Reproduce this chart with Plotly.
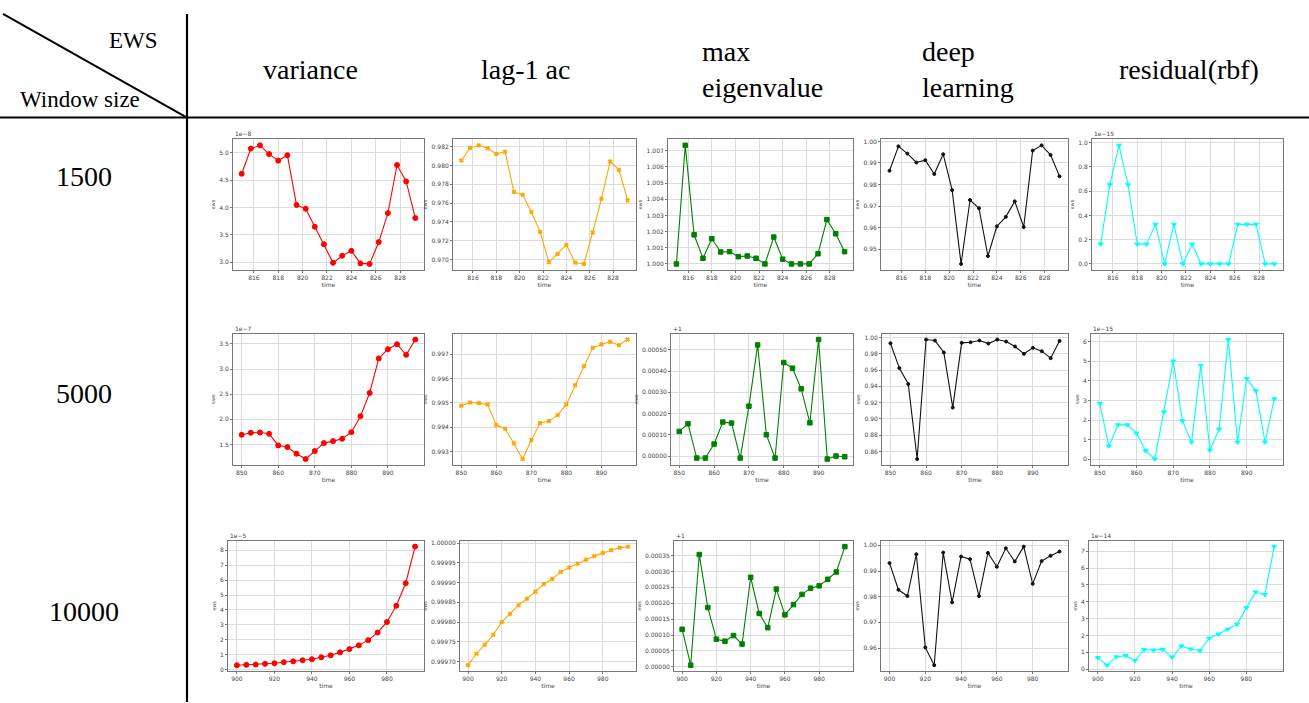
import plotly.graph_objects as go

W, H = 1309, 703

# ---------------- data ----------------
time_1500 = [815.0, 815.75, 816.5, 817.25, 818.0, 818.75, 819.5, 820.25, 821.0, 821.75,
             822.5, 823.25, 824.0, 824.75, 825.5, 826.25, 827.0, 827.75, 828.5, 829.25]
time_5000 = [850.0, 852.5, 855.0, 857.5, 860.0, 862.5, 865.0, 867.5, 870.0, 872.5,
             875.0, 877.5, 880.0, 882.5, 885.0, 887.5, 890.0, 892.5, 895.0, 897.5]
time_10000 = [900, 905, 910, 915, 920, 925, 930, 935, 940, 945,
              950, 955, 960, 965, 970, 975, 980, 985, 990, 995]

# values shown in the units of the axis offset label
variance_1500 = [4.62, 5.08, 5.14, 4.98, 4.86, 4.96, 4.05, 3.98, 3.65, 3.33,
                 2.99, 3.12, 3.21, 2.98, 2.97, 3.37, 3.90, 4.78, 4.48, 3.81]          # x1e-8
lag1_1500 = [0.98053, 0.98186, 0.98214, 0.98182, 0.98123, 0.98147, 0.97719, 0.97688, 0.97505, 0.97295,
             0.96972, 0.97060, 0.97156, 0.96968, 0.96954, 0.97288, 0.97646, 0.98042, 0.97954, 0.97629]
maxeig_1500 = [1.0000, 1.00733, 1.00180, 1.00035, 1.00156, 1.00074, 1.00076, 1.00045, 1.00049, 1.00035,
               1.0000, 1.00166, 1.00029, 1.0000, 1.0000, 1.0000, 1.00063, 1.00274, 1.00186, 1.00076]
deep_1500 = [0.98639, 0.99771, 0.99434, 0.99021, 0.99128, 0.98486, 0.99404, 0.97737, 0.94312, 0.97278,
             0.96896, 0.94679, 0.96055, 0.96498, 0.97217, 0.96024, 0.99572, 0.99817, 0.99373, 0.98379]
resid_1500 = [0.163, 0.652, 0.978, 0.652, 0.163, 0.163, 0.326, 0.0, 0.326, 0.0,
              0.163, 0.0, 0.0, 0.0, 0.0, 0.326, 0.326, 0.326, 0.0, 0.0]                 # x1e-15

variance_5000 = [1.691, 1.731, 1.738, 1.711, 1.480, 1.447, 1.315, 1.209, 1.368, 1.526,
                 1.566, 1.612, 1.744, 2.061, 2.523, 3.210, 3.394, 3.493, 3.282, 3.586]  # x1e-7
lag1_5000 = [0.994884, 0.995020, 0.994993, 0.994939, 0.994092, 0.993942, 0.993341, 0.992700, 0.993478, 0.994174,
             0.994256, 0.994502, 0.994939, 0.995730, 0.996509, 0.997259, 0.997410, 0.997505, 0.997369, 0.997601]
maxeig_5000 = [0.0001160, 0.0001520, -0.0000094, -0.0000094, 0.0000564, 0.0001599, 0.0001552, -0.0000094,
               0.0002351, 0.0005235, 0.0001003, -0.0000094, 0.0004404, 0.0004138, 0.0003166, 0.0001567,
               0.0005486, -0.0000141, 0.0000000, -0.0000031]                              # +1
deep_5000 = [0.99306, 0.96245, 0.94286, 0.85061, 0.99755, 0.99633, 0.98163, 0.91388, 0.99347, 0.99429,
             0.99633, 0.99265, 0.99755, 0.99510, 0.98898, 0.98000, 0.98735, 0.98327, 0.97469, 0.99592]
resid_5000 = [2.856, 0.676, 1.758, 1.758, 1.335, 0.439, 0.017, 2.417, 5.003, 1.960,
              0.879, 4.783, 0.473, 1.538, 6.101, 0.879, 4.124, 3.482, 0.879, 3.076]       # x1e-15

variance_10000 = [0.288, 0.31, 0.33, 0.38, 0.42, 0.49, 0.55, 0.62, 0.69, 0.82,
                  0.95, 1.15, 1.37, 1.62, 1.97, 2.48, 3.19, 4.28, 5.79, 8.25]           # x1e-5
lag1_10000 = [0.999691, 0.999720, 0.999743, 0.999768, 0.999800, 0.999821, 0.999843, 0.999859, 0.999877, 0.999896,
              0.999909, 0.999927, 0.999938, 0.999948, 0.999958, 0.999967, 0.999975, 0.999982, 0.999988, 0.999991]
maxeig_10000 = [0.0001180, 0.0000052, 0.0003531, 0.0001864, 0.0000870, 0.0000808, 0.0000984, 0.0000715,
                0.0002817, 0.0001678, 0.0001232, 0.0002444, 0.0001636, 0.0001957, 0.0002278, 0.0002475,
                0.0002547, 0.0002754, 0.0002982, 0.0003780]                               # +1
deep_10000 = [0.99308, 0.98269, 0.98026, 0.99654, 0.96026, 0.95333, 0.99718, 0.97782, 0.99564, 0.99462,
              0.98026, 0.99705, 0.99167, 0.99885, 0.99372, 0.99949, 0.98500, 0.99385, 0.99590, 0.99756]
resid_10000 = [0.684, 0.235, 0.724, 0.802, 0.508, 1.154, 1.134, 1.173, 0.704, 1.369,
               1.193, 1.095, 1.838, 2.073, 2.366, 2.659, 3.637, 4.576, 4.419, 7.274]     # x1e-14

ews_names = ["variance", "lag-1 ac", "max<br>eigenvalue", "deep<br>learning", "residual(rbf)"]
window_sizes = ["1500", "5000", "10000"]

rows = [
    (time_1500, [variance_1500, lag1_1500, maxeig_1500, deep_1500, resid_1500],
     ["1e−8", "", "", "", "1e−15"]),
    (time_5000, [variance_5000, lag1_5000, maxeig_5000, deep_5000, resid_5000],
     ["1e−7", "", "+1", "", "1e−15"]),
    (time_10000, [variance_10000, lag1_10000, maxeig_10000, deep_10000, resid_10000],
     ["1e−5", "", "+1", "", "1e−14"]),
]

# ---------------- styling ----------------
colors = ["#ff0000", "#ffa500", "#008000", "#111111", "#00ffff"]
symbols = ["circle", "x", "square", "circle", "triangle-down"]
msizes = [5, 3.5, 4.5, 3, 4.5]
x_dtick = [2, 10, 20]
y_dtick = [[0.5, 0.002, 0.001, 0.01, 0.2],
           [0.5, 0.001, 0.0001, 0.02, 1],
           [1, 0.00005, 0.00005, 0.01, 1]]
y_fmt = [[".1f", ".3f", ".3f", ".2f", ".1f"],
         [".1f", ".3f", ".5f", ".2f", ".0f"],
         [".0f", ".5f", ".5f", ".2f", ".0f"]]

row_px = [(138, 269), (333, 465), (541, 672)]
col_px = [[(233, 424), (453, 636), (668, 853), (881, 1068), (1092, 1283)],
          [(233, 424), (453, 636), (671, 853), (882, 1068), (1091, 1283)],
          [(228, 424), (460, 636), (674, 853), (881, 1068), (1089, 1283)]]

fig = go.Figure()
annotations = []
layout_axes = {}

def padded(vals):
    lo, hi = min(vals), max(vals)
    p = 0.05 * (hi - lo)
    return [lo - p, hi + p]

n = 0
for r, (tvals, series, offsets) in enumerate(rows):
    top, bot = row_px[r]
    for c in range(5):
        n += 1
        l, rr = col_px[r][c]
        xd = [l / W, rr / W]
        yd = [1 - bot / H, 1 - top / H]
        xa = "x" if n == 1 else f"x{n}"
        ya = "y" if n == 1 else f"y{n}"
        fig.add_trace(go.Scatter(
            x=tvals, y=series[c], mode="lines+markers",
            line=dict(color=colors[c], width=1.1),
            marker=dict(symbol=symbols[c], size=msizes[c], color=colors[c],
                        line=dict(color=colors[c], width=1)),
            xaxis=xa, yaxis=ya, showlegend=False, hoverinfo="skip"))
        common = dict(showline=True, mirror=True, linecolor="#777777", linewidth=1,
                      showgrid=True, gridcolor="#dcdcdc", gridwidth=1, zeroline=False,
                      ticks="outside", ticklen=2, tickcolor="#777777",
                      tickfont=dict(family="DejaVu Sans", size=6, color="#444444"))
        layout_axes["xaxis" if n == 1 else f"xaxis{n}"] = dict(
            domain=xd, anchor=ya, range=padded(tvals), dtick=x_dtick[r], tick0=0,
            title=dict(text="time", font=dict(family="DejaVu Sans", size=6, color="#444444"), standoff=2),
            **common)
        layout_axes["yaxis" if n == 1 else f"yaxis{n}"] = dict(
            domain=yd, anchor=xa, range=padded(series[c]), dtick=y_dtick[r][c], tick0=0,
            tickformat=y_fmt[r][c],
            title=dict(text="ews", font=dict(family="DejaVu Sans", size=5, color="#444444"), standoff=3),
            **common)
        if offsets[c]:
            annotations.append(dict(
                x=xd[0], y=yd[1], xref="paper", yref="paper", xanchor="left", yanchor="bottom",
                text=offsets[c], showarrow=False,
                font=dict(family="DejaVu Sans", size=6, color="#444444")))

# ---------------- table headers ----------------
serif = "Liberation Serif"
head_x = [310, 525, 700, 920, 1189]
for i, name in enumerate(ews_names):
    multiline = "<br>" in name
    annotations.append(dict(
        x=head_x[i] / W, y=1 - 68 / H, xref="paper", yref="paper",
        xanchor="left" if multiline else "center", yanchor="middle",
        align="left", text=name, showarrow=False,
        font=dict(family=serif, size=28, color="black")))
row_y = [175, 393, 612]
for i, ws in enumerate(window_sizes):
    annotations.append(dict(
        x=84 / W, y=1 - row_y[i] / H, xref="paper", yref="paper",
        xanchor="center", yanchor="middle", text=ws, showarrow=False,
        font=dict(family=serif, size=28, color="black")))
annotations.append(dict(x=160 / W, y=1 - 39 / H, xref="paper", yref="paper",
                        xanchor="right", yanchor="middle", text="EWS", showarrow=False,
                        font=dict(family=serif, size=23, color="black")))
annotations.append(dict(x=18 / W, y=1 - 98 / H, xref="paper", yref="paper",
                        xanchor="left", yanchor="middle", text="Window size", showarrow=False,
                        font=dict(family=serif, size=23, color="black")))

shapes = [
    dict(type="line", xref="paper", yref="paper", x0=0, x1=1, y0=1 - 116 / H, y1=1 - 116 / H,
         line=dict(color="black", width=2.2)),
    dict(type="line", xref="paper", yref="paper", x0=187 / W, x1=187 / W, y0=1 - 12 / H, y1=0,
         line=dict(color="black", width=2.2)),
    dict(type="line", xref="paper", yref="paper", x0=3 / W, x1=187 / W, y0=1 - 12 / H, y1=1 - 116 / H,
         line=dict(color="black", width=2)),
]

fig.update_layout(
    width=W, height=H, margin=dict(l=0, r=0, t=0, b=0),
    paper_bgcolor="white", plot_bgcolor="white",
    annotations=annotations, shapes=shapes, **layout_axes)

fig.write_html("out.html")
